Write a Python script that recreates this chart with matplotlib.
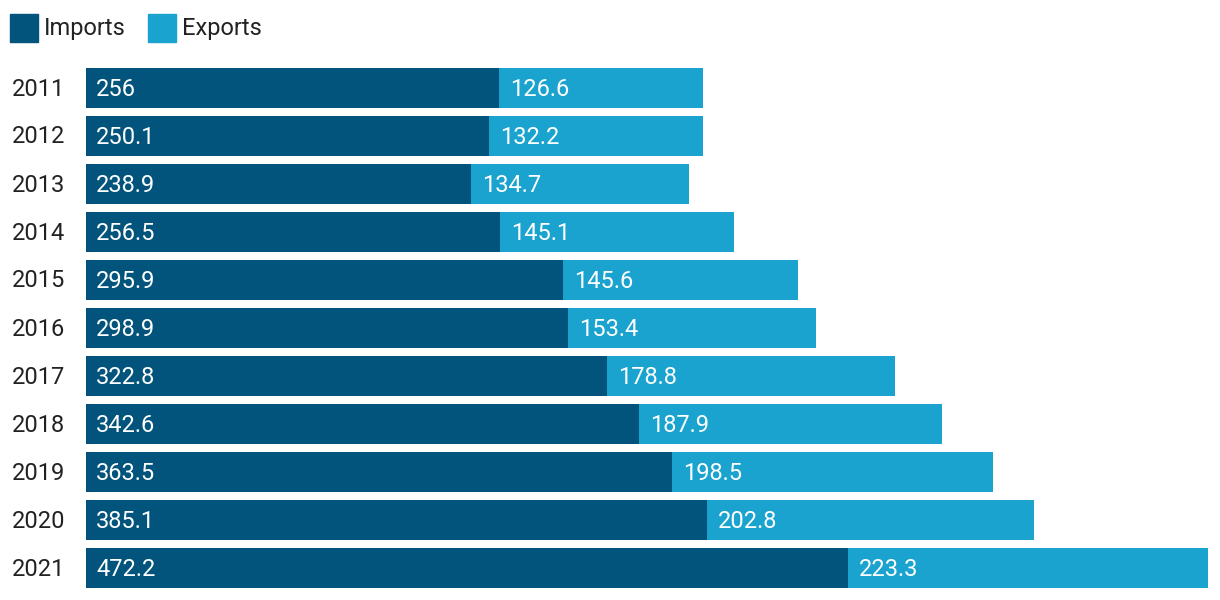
import matplotlib.pyplot as plt
from matplotlib.patches import Rectangle

plt.rcParams["font.family"] = ["Roboto", "DejaVu Sans"]

years = ["2011", "2012", "2013", "2014", "2015", "2016", "2017", "2018", "2019", "2020", "2021"]
imports = [256, 250.1, 238.9, 256.5, 295.9, 298.9, 322.8, 342.6, 363.5, 385.1, 472.2]
exports = [126.6, 132.2, 134.7, 145.1, 145.6, 153.4, 178.8, 187.9, 198.5, 202.8, 223.3]

imp_color = "#02547c"
exp_color = "#1ba3d0"

W, H = 1220, 600
fig = plt.figure(figsize=(W / 100, H / 100), dpi=100)
ax = fig.add_axes([86 / W, 1 - 592 / H, (1208 - 86) / W, (592 - 64) / H])

pos = list(range(len(years)))
ax.barh(pos, imports, height=40 / 48, color=imp_color)
ax.barh(pos, exports, left=imports, height=40 / 48, color=exp_color)

ax.set_xlim(0, max(i + e for i, e in zip(imports, exports)))
ax.set_ylim(len(years) - 0.5, -0.5)
ax.axis("off")

fs = 17
for i, (im, ex) in enumerate(zip(imports, exports)):
    ax.annotate(f"{im:g}", (0, i), xytext=(10, -1), textcoords="offset pixels",
                ha="left", va="center", color="white", fontsize=fs)
    ax.annotate(f"{ex:g}", (im, i), xytext=(11, -1), textcoords="offset pixels",
                ha="left", va="center", color="white", fontsize=fs)
    fig.text(12 / W, 1 - (89 + 48 * i) / H, years[i], ha="left", va="center",
             color="#222222", fontsize=fs)

# legend
for x0, label, c in [(10, "Imports", imp_color), (148, "Exports", exp_color)]:
    fig.patches.append(Rectangle((x0 / W, 1 - 42 / H), 28 / W, 28 / H,
                                 transform=fig.transFigure, color=c))
    fig.text((x0 + 34) / W, 1 - 28 / H, label, ha="left", va="center",
             color="#222222", fontsize=fs)

fig.savefig("out.png", dpi=100)
